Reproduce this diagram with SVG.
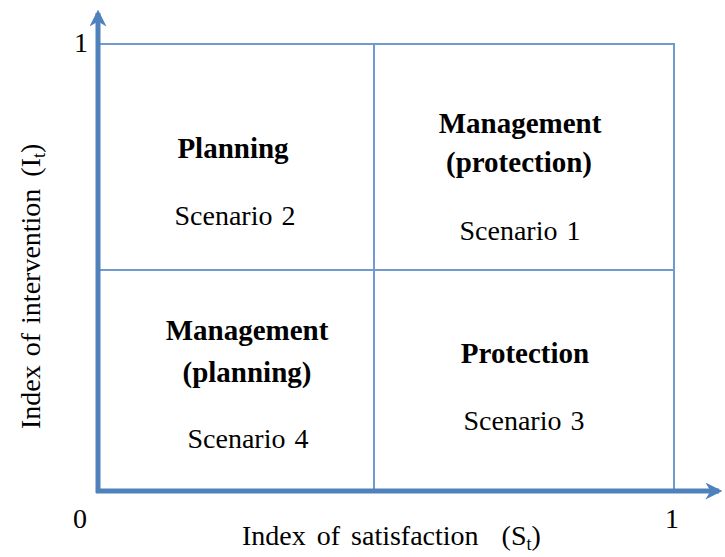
<svg xmlns="http://www.w3.org/2000/svg" width="725" height="557" viewBox="0 0 725 557">
  <style>
    .axis { stroke: #4f81bd; stroke-width: 5; fill: none; }
    .grid { stroke: #6f9bd1; stroke-width: 2; fill: none; }
    text { font-family: "Liberation Serif", "Times New Roman", serif; fill: #000; }
    .title { font-size: 29px; font-weight: bold; text-anchor: middle; }
    .scen { font-size: 28px; text-anchor: middle; }
    .lbl { font-size: 28px; }
  </style>
  <defs>
    <marker id="arrow" viewBox="0 0 10 10" refX="8" refY="5" markerWidth="3.4" markerHeight="3.4" orient="auto" markerUnits="strokeWidth">
      <path d="M0,0 L10,5 L0,10 L3,5 Z" fill="#4f81bd"/>
    </marker>
  </defs>

  <g id="connectors">
    <!-- quadrant grid -->
    <path class="grid" d="M98,44 H674 V491"/>
    <path class="grid" d="M374,44 V491"/>
    <path class="grid" d="M98,270 H674"/>
    <!-- axes -->
    <path class="axis" d="M98,493 V13" marker-end="url(#arrow)"/>
    <path class="axis" d="M96,491 H719" marker-end="url(#arrow)"/>
  </g>

  <g id="ticks">
    <text class="lbl" x="74" y="52">1</text>
    <text class="lbl" x="73" y="528">0</text>
    <text class="lbl" x="665" y="528">1</text>
  </g>

  <g id="axis-x-label">
    <text class="lbl" x="242" y="545" word-spacing="4">Index of satisfaction<tspan dx="23">(S</tspan><tspan font-size="18" dy="5">t</tspan><tspan dy="-5">)</tspan></text>
  </g>
  <g id="axis-y-label">
    <text class="lbl" font-size="27" word-spacing="2" transform="translate(40,429) rotate(-90)">Index of intervention<tspan dx="12">(I</tspan><tspan font-size="18" dy="5">t</tspan><tspan dy="-5">)</tspan></text>
  </g>

  <g id="q-planning">
    <text class="title" x="233" y="158">Planning</text>
    <text class="scen" x="235" y="225">Scenario<tspan dx="9">2</tspan></text>
  </g>
  <g id="q-management-protection">
    <text class="title" x="520" y="133">Management</text>
    <text class="title" x="519" y="172">(protection)</text>
    <text class="scen" x="520" y="240">Scenario<tspan dx="9">1</tspan></text>
  </g>
  <g id="q-management-planning">
    <text class="title" x="247" y="340">Management</text>
    <text class="title" x="247" y="382">(planning)</text>
    <text class="scen" x="248" y="448">Scenario<tspan dx="9">4</tspan></text>
  </g>
  <g id="q-protection">
    <text class="title" x="525" y="363">Protection</text>
    <text class="scen" x="524" y="430">Scenario<tspan dx="9">3</tspan></text>
  </g>
</svg>
